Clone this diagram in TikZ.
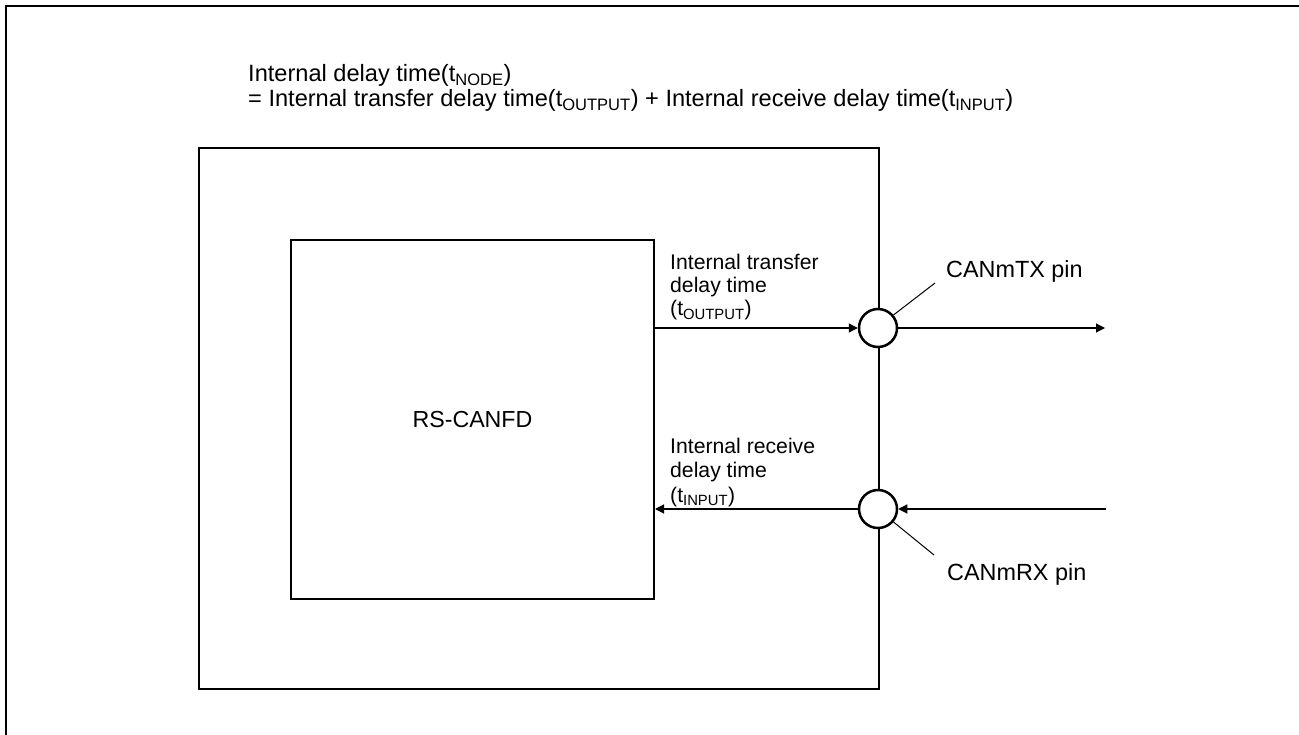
\documentclass[tikz,border=0pt]{standalone}
\usepackage{fontspec}
\setmainfont{Liberation Sans}
\usetikzlibrary{arrows.meta}
\begin{document}
\begin{tikzpicture}[x=1pt,y=-1pt,
  frame/.style={line width=2pt},
  box/.style={draw,line width=2pt,inner sep=0pt,anchor=north west},
  pin/.style={circle,draw,fill=white,line width=2.5pt,minimum size=38pt,inner sep=0pt},
  sig/.style={line width=1.2pt,-{Triangle[length=9pt,width=9pt]}},
  leader/.style={line width=1pt},
  big/.style={font=\fontsize{23.4}{28}\selectfont,inner sep=0pt},
  ttl/.style={font=\fontsize{23.6}{28}\selectfont,inner sep=0pt,anchor=base west},
  small/.style={font=\fontsize{21.2}{25}\selectfont,inner sep=0pt,anchor=base west},
]
\useasboundingbox (0,0) rectangle (1299,735);
\draw[frame] (6,735) -- (6,6) -- (1299,6);

% title
\node[ttl] (t1) at (248,82) {Internal delay time(t\textsubscript{NODE})};
\node[ttl] (t2) at (248,107) {= Internal transfer delay time(t\textsubscript{OUTPUT}) + Internal receive delay time(t\textsubscript{INPUT})};

% boxes
\node[box,minimum width=680pt,minimum height=541pt] (chip) at (198,147) {};
\node[box,minimum width=363pt,minimum height=359pt,font=\fontsize{23.2}{28}\selectfont] (canfd) at (290,239) {RS-CANFD};

% pins
\node[pin] (tx) at (878,328) {};
\node[pin] (rx) at (878,509) {};

% signals
\coordinate (txout) at (1105,328);
\coordinate (rxin) at (1106,509);
\draw[sig] (canfd.east |- tx) -- (tx.west);
\draw[sig] (tx.east) -- (txout);
\draw[sig] (rxin) -- (rx.east);
\draw[sig] (rx.west) -- (canfd.east |- rx);

% delay labels
\node[small] (tl1) at (670,270) {Internal transfer};
\node[small] (tl2) at (670,293) {delay time};
\node[small] (tl3) at (670,316) {(t\textsubscript{OUTPUT})};
\node[small] (rl1) at (670,453) {Internal receive};
\node[small] (rl2) at (670,477) {delay time};
\node[small] (rl3) at (670,502) {(t\textsubscript{INPUT})};

% pin labels with leaders
\coordinate (txl) at (935,283);
\coordinate (rxl) at (934,555);
\draw[leader] (tx.40) -- (txl);
\draw[leader] (rx.-40) -- (rxl);
\node[big,anchor=base west] (pintx) at (946,278) {CANmTX pin};
\node[big,anchor=base west] (pinrx) at (947,580) {CANmRX pin};
\end{tikzpicture}
\end{document}
